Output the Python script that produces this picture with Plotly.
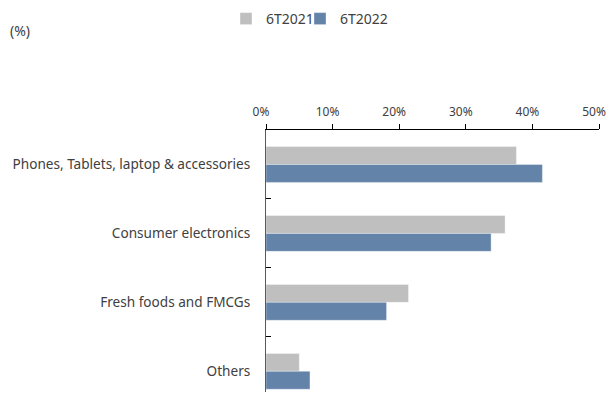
import plotly.graph_objects as go

categories = ["Phones, Tablets, laptop & accessories", "Consumer electronics",
              "Fresh foods and FMCGs", "Others"]
series_names = ["6T2021", "6T2022"]
values_2021 = [37.6, 35.9, 21.4, 5.0]
values_2022 = [41.5, 33.8, 18.1, 6.6]
x_ticks = [0, 10, 20, 30, 40, 50]
x_tick_labels = ["0%", "10%", "20%", "30%", "40%", "50%"]

colors = ["#BFBFBF", "#6483A8"]
font_family = "Noto Sans"
text_color = "#404040"

W, H = 606, 384  # page body adds an 8px margin on every side

fig = go.Figure()
for i, (name, vals, col) in enumerate(zip(series_names, [values_2021, values_2022], colors)):
    fig.add_trace(go.Bar(
        y=categories, x=vals, name=name, orientation="h",
        legend="legend" if i == 0 else "legend2",
        marker=dict(color=col, line=dict(color="rgba(255,255,255,0.6)", width=0.6)),
    ))

legend_common = dict(orientation="h", xref="container", yref="container",
                     xanchor="left", yanchor="middle", y=1 - 11 / H,
                     font=dict(size=14), itemwidth=30, bgcolor="rgba(0,0,0,0)")

fig.update_layout(
    width=W, height=H,
    margin=dict(l=258, r=15, t=122, b=0),
    paper_bgcolor="white", plot_bgcolor="white",
    barmode="group", bargap=0.48, bargroupgap=0,
    font=dict(family=font_family, size=14, color=text_color),
    legend=dict(x=218 / W, **legend_common),
    legend2=dict(x=292 / W, **legend_common),
    showlegend=True,
)
fig.update_xaxes(
    side="top", range=[0, 50], tickvals=x_ticks, ticktext=x_tick_labels,
    showgrid=False, zeroline=False, showline=True, linecolor="#000000", linewidth=1,
    ticks="outside", ticklen=5, tickcolor="#000000", tickwidth=1,
    tickfont=dict(size=12), ticklabelstandoff=3, ticklabelshift=-5, automargin=False,
)
fig.update_yaxes(
    categoryorder="array", categoryarray=categories,
    range=[3.30, -0.5], showgrid=False, zeroline=False,
    showline=True, linecolor="#595959", linewidth=1,
    ticks="inside", tickson="boundaries", ticklen=5, tickcolor="#000000",
    tickfont=dict(size=13.6), ticklabelstandoff=12, automargin=False,
)
fig.add_annotation(text="(%)", xref="paper", yref="paper",
                   x=(0 - 258) / 333, y=(H - 22) / 262,
                   showarrow=False, xanchor="left", yanchor="middle",
                   font=dict(size=14, color=text_color))
fig.write_html("out.html")
